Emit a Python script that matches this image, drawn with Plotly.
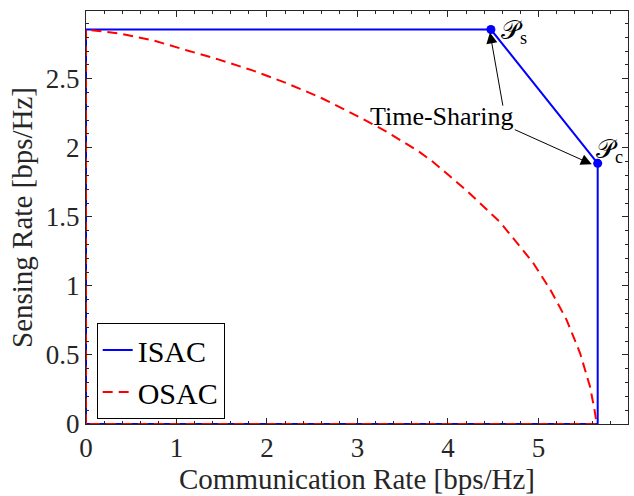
import plotly.graph_objects as go

# ISAC region boundary (vertices)
isac_comm = [0, 0, 4.475, 5.655, 5.655, 0]
isac_sens = [0, 2.856, 2.856, 1.887, 0, 0]

# corner points
ps_point = [4.475, 2.856]
pc_point = [5.655, 1.887]

# OSAC boundary
osac_comm = [0, 0, 0.37, 0.74, 1.11, 1.47, 1.84, 2.21, 2.58, 2.95, 3.32, 3.68,
             3.84, 4.21, 4.58, 4.94, 5.13, 5.31, 5.46, 5.57, 5.62, 5.645, 0]
osac_sens = [0, 2.856, 2.827, 2.778, 2.706, 2.638, 2.560, 2.469, 2.367, 2.246,
             2.117, 1.972, 1.895, 1.688, 1.459, 1.168, 0.974, 0.756, 0.514,
             0.271, 0.102, 0, 0]

x_ticks = [0, 1, 2, 3, 4, 5]
y_ticks = [0, 0.5, 1, 1.5, 2, 2.5]
y_tick_text = ["0", "0.5", "1", "1.5", "2", "2.5"]
x_range = [0, 5.99]
y_range = [0, 2.99]

FONT = "Liberation Serif"
AX = "#262626"

fig = go.Figure()
fig.add_trace(go.Scatter(x=isac_comm, y=isac_sens, mode="lines", name="ISAC",
                         line=dict(color="#0000ff", width=2)))
fig.add_trace(go.Scatter(x=osac_comm, y=osac_sens, mode="lines", name="OSAC",
                         line=dict(color="#ff0000", width=2, dash="10px,6px")))
fig.add_trace(go.Scatter(x=[ps_point[0], pc_point[0]], y=[ps_point[1], pc_point[1]],
                         mode="markers", showlegend=False,
                         marker=dict(color="#0000ff", size=9)))
# invisible trace to activate mirrored tick axes (top / right)
fig.add_trace(go.Scatter(x=[ps_point[0]], y=[ps_point[1]], xaxis="x2", yaxis="y2",
                         mode="markers", showlegend=False, hoverinfo="skip",
                         marker=dict(opacity=0)))

tickfont = dict(family=FONT, size=27, color=AX)

fig.update_layout(
    xaxis=dict(range=x_range, tickvals=x_ticks, automargin=False,
               showline=True, linecolor=AX, linewidth=1, mirror=True,
               ticks="inside", ticklen=6, tickcolor=AX, showgrid=False, zeroline=False,
               tickfont=tickfont,
               minor=dict(ticks="inside", dtick=0.2, ticklen=3, tickcolor=AX),
               title=dict(text="Communication Rate [bps/Hz]",
                          font=dict(family=FONT, size=29, color=AX), standoff=6)),
    yaxis=dict(range=y_range, tickvals=y_ticks, ticktext=y_tick_text, automargin=False,
               showline=True, linecolor=AX, linewidth=1, mirror=True,
               ticks="inside", ticklen=6, tickcolor=AX, showgrid=False, zeroline=False,
               tickfont=tickfont,
               minor=dict(ticks="inside", dtick=0.1, ticklen=3, tickcolor=AX),
               title=dict(text="Sensing Rate [bps/Hz]",
                          font=dict(family=FONT, size=29, color=AX), standoff=4)),
    xaxis2=dict(range=x_range, tickvals=x_ticks, overlaying="x", side="top",
                anchor="y2", automargin=False, showticklabels=False, showline=False,
                ticks="inside", ticklen=6, tickcolor=AX, showgrid=False, zeroline=False,
                minor=dict(ticks="inside", dtick=0.2, ticklen=3, tickcolor=AX)),
    yaxis2=dict(range=y_range, tickvals=y_ticks, overlaying="y", side="right",
                anchor="x2", automargin=False, showticklabels=False, showline=False,
                ticks="inside", ticklen=6, tickcolor=AX, showgrid=False, zeroline=False,
                minor=dict(ticks="inside", dtick=0.1, ticklen=3, tickcolor=AX)),
)

# annotations
fig.add_annotation(x=3.934, y=2.224, text="Time-Sharing", showarrow=False,
                   font=dict(family=FONT, size=26, color="black"))
fig.add_annotation(x=4.464, y=2.835, ax=4.61, ay=2.294, axref="x", ayref="y",
                   text="", showarrow=True, arrowhead=2, arrowsize=2.2,
                   arrowwidth=1, arrowcolor="black", standoff=0, startstandoff=0)
fig.add_annotation(x=5.59, y=1.88, ax=4.722, ay=2.136, axref="x", ayref="y",
                   text="", showarrow=True, arrowhead=2, arrowsize=2.2,
                   arrowwidth=1, arrowcolor="black", standoff=0, startstandoff=0)
fig.add_annotation(x=4.56, y=2.84, text="𝒫<sub>s</sub>", showarrow=False,
                   xanchor="left", font=dict(family=FONT, size=26, color="black"))
fig.add_annotation(x=5.61, y=1.98, text="𝒫<sub>c</sub>", showarrow=False,
                   xanchor="left", font=dict(family=FONT, size=26, color="black"))

fig.update_layout(
    width=634, height=496,
    margin=dict(l=86, r=6, t=11, b=72),
    paper_bgcolor="white", plot_bgcolor="white",
    legend=dict(x=0.0197, y=0.012, xanchor="left", yanchor="bottom",
                bgcolor="white", bordercolor="black", borderwidth=1,
                font=dict(family=FONT, size=30, color="black"),
                tracegroupgap=0, itemwidth=30),
)

fig.write_html("out.html", config={"displayModeBar": False},
               post_script="document.body.style.margin='0';document.body.style.overflow='hidden';")
